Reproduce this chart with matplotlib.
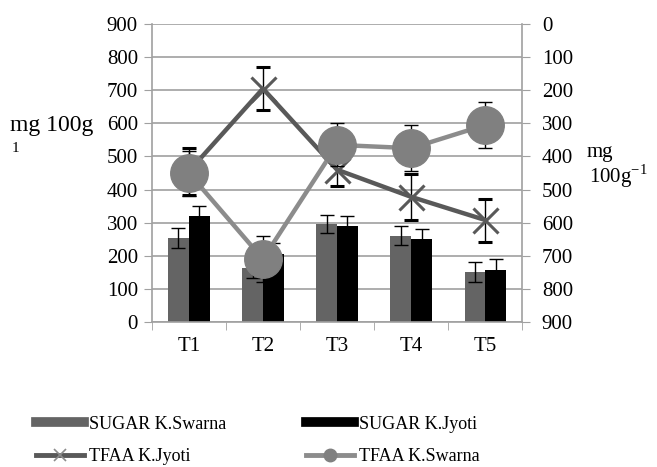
import numpy as np
import matplotlib
matplotlib.use("Agg")
import matplotlib.pyplot as plt

plt.rcParams['font.family'] = ['Liberation Serif', 'DejaVu Serif']
plt.rcParams['mathtext.fontset'] = 'custom'
plt.rcParams['mathtext.rm'] = 'Liberation Serif'

# data
categories = ['T1', 'T2', 'T3', 'T4', 'T5']
sugar_swarna = [255, 163, 297, 261, 150]
sugar_swarna_err = [30, 30, 27, 28, 30]
sugar_jyoti = [320, 206, 290, 252, 158]
sugar_jyoti_err = [30, 33, 30, 30, 32]
# TFAA values on the inverted right axis
tfaa_jyoti = [445, 195, 440, 522, 592]
tfaa_jyoti_err = [70, 65, 50, 70, 65]
tfaa_swarna = [450, 710, 365, 375, 305]
tfaa_swarna_err = [68, 70, 65, 70, 70]

fig = plt.figure(figsize=(6.57, 4.67), dpi=100)
ax = fig.add_axes([0.231, 0.3105, 0.564, 0.638])
x = np.arange(len(categories))
w = 0.28

grey = '#a0a0a0'
ek = dict(ecolor='black', elinewidth=1, capsize=5, capthick=1)
ax.bar(x - w / 2, sugar_swarna, w, color='#646464', yerr=sugar_swarna_err,
       error_kw=ek, zorder=2)
ax.bar(x + w / 2, sugar_jyoti, w, color='black', yerr=sugar_jyoti_err,
       error_kw=ek, zorder=2)

ax.set_xlim(-0.5, len(categories) - 0.5)
ax.set_ylim(0, 900)
ax.set_yticks(np.arange(0, 901, 100))
ax.grid(axis='y', color=grey, linewidth=1.2, zorder=0)
ax.set_axisbelow(True)
ax.set_xticks(x)
ax.set_xticklabels(categories)
ax.set_xticks(np.arange(-0.5, len(categories), 1), minor=True)
ax.tick_params(axis='x', which='major', length=0, labelsize=15, pad=11)
ax.tick_params(axis='x', which='minor', length=6, color=grey)
ax.tick_params(axis='y', length=6, color=grey, labelsize=15, pad=4)
for s in ['top', 'right']:
    ax.spines[s].set_visible(False)
for s in ['left', 'bottom']:
    ax.spines[s].set_color(grey)
    ax.spines[s].set_linewidth(1.2)

ax2 = ax.twinx()
ax2.set_ylim(900, 0)
ax2.set_yticks(np.arange(0, 901, 100))
ax2.tick_params(axis='y', length=6, color=grey, labelsize=15, pad=8)
for s in ['top', 'left', 'bottom']:
    ax2.spines[s].set_visible(False)
ax2.spines['right'].set_color(grey)
ax2.spines['right'].set_linewidth(1.2)

ax2.errorbar(x, tfaa_jyoti, yerr=tfaa_jyoti_err, color='#595959', lw=3.2,
             marker='x', ms=18, mew=2.2, ecolor='black', elinewidth=1,
             capsize=5, capthick=1, zorder=3)
ax2.errorbar(x, tfaa_swarna, yerr=tfaa_swarna_err, color='#8c8c8c', lw=3.2,
             marker='o', ms=27, mfc='#808080', mec='#808080',
             ecolor='black', elinewidth=1, capsize=5, capthick=1, zorder=4)

# axis titles
fig.text(0.015, 0.72, 'mg 100g', fontsize=17, ha='left', va='baseline')
fig.text(0.018, 0.675, '1', fontsize=11, ha='left', va='baseline')
fig.text(0.893, 0.664, 'mg', fontsize=15, ha='left', va='baseline')
fig.text(0.897, 0.608, '100g$^{-1}$', fontsize=15, ha='left', va='baseline')

# legend
h1 = plt.Line2D([], [], color='#646464', lw=7)
h2 = plt.Line2D([], [], color='black', lw=7)
h3 = plt.Line2D([], [], color='#595959', lw=3.5, marker='x', ms=8, mew=1.2,
                mec='#8c8c8c')
h4 = plt.Line2D([], [], color='#8c8c8c', lw=3.5, marker='o', ms=9,
                mfc='#808080', mec='#808080')
fig.legend([h1, h3, h2, h4],
           ['SUGAR K.Swarna', 'TFAA K.Jyoti', 'SUGAR K.Jyoti', 'TFAA K.Swarna'],
           ncol=2, loc='center', bbox_to_anchor=(0.392, 0.057), frameon=False,
           fontsize=13, handlelength=2.7, handletextpad=0.25,
           columnspacing=4.4, labelspacing=0.85)

fig.savefig('out.png', dpi=100)
